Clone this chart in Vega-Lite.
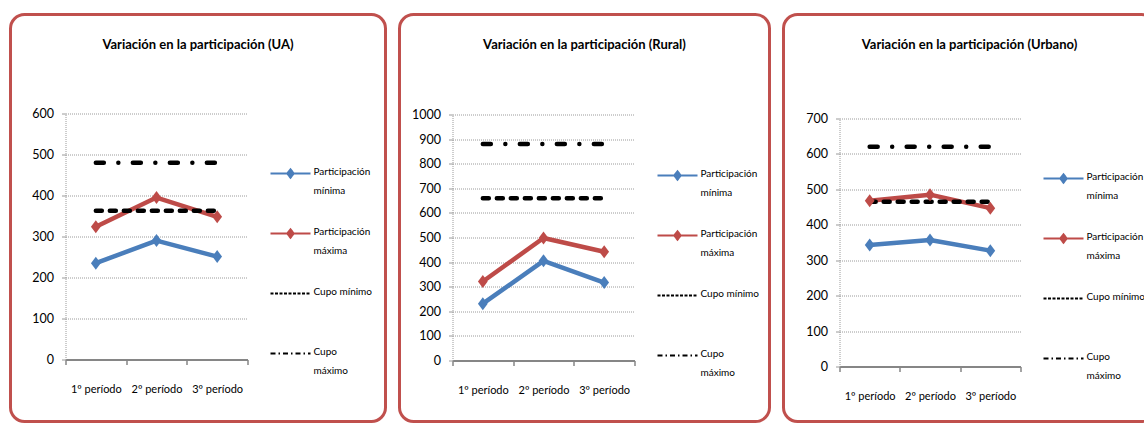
{
  "$schema": "https://vega.github.io/schema/vega-lite/v6.json",
  "background": "white",
  "padding": {"left": 8.5, "top": 12.5, "right": 0, "bottom": 0},
  "spacing": 10,
  "datasets": {
    "d": [
      {"panel": "UA", "periodo": "1º período", "serie": "Participación mínima", "valor": 235},
      {"panel": "UA", "periodo": "2º período", "serie": "Participación mínima", "valor": 290},
      {"panel": "UA", "periodo": "3º período", "serie": "Participación mínima", "valor": 251},
      {"panel": "UA", "periodo": "1º período", "serie": "Participación máxima", "valor": 324},
      {"panel": "UA", "periodo": "2º período", "serie": "Participación máxima", "valor": 395},
      {"panel": "UA", "periodo": "3º período", "serie": "Participación máxima", "valor": 348},
      {"panel": "UA", "periodo": "1º período", "serie": "Cupo mínimo", "valor": 363},
      {"panel": "UA", "periodo": "2º período", "serie": "Cupo mínimo", "valor": 363},
      {"panel": "UA", "periodo": "3º período", "serie": "Cupo mínimo", "valor": 363},
      {"panel": "UA", "periodo": "1º período", "serie": "Cupo máximo", "valor": 480},
      {"panel": "UA", "periodo": "2º período", "serie": "Cupo máximo", "valor": 480},
      {"panel": "UA", "periodo": "3º período", "serie": "Cupo máximo", "valor": 480},
      {"panel": "Rural", "periodo": "1º período", "serie": "Participación mínima", "valor": 231},
      {"panel": "Rural", "periodo": "2º período", "serie": "Participación mínima", "valor": 405},
      {"panel": "Rural", "periodo": "3º período", "serie": "Participación mínima", "valor": 317},
      {"panel": "Rural", "periodo": "1º período", "serie": "Participación máxima", "valor": 321},
      {"panel": "Rural", "periodo": "2º período", "serie": "Participación máxima", "valor": 498},
      {"panel": "Rural", "periodo": "3º período", "serie": "Participación máxima", "valor": 442},
      {"panel": "Rural", "periodo": "1º período", "serie": "Cupo mínimo", "valor": 660},
      {"panel": "Rural", "periodo": "2º período", "serie": "Cupo mínimo", "valor": 660},
      {"panel": "Rural", "periodo": "3º período", "serie": "Cupo mínimo", "valor": 660},
      {"panel": "Rural", "periodo": "1º período", "serie": "Cupo máximo", "valor": 880},
      {"panel": "Rural", "periodo": "2º período", "serie": "Cupo máximo", "valor": 880},
      {"panel": "Rural", "periodo": "3º período", "serie": "Cupo máximo", "valor": 880},
      {"panel": "Urbano", "periodo": "1º período", "serie": "Participación mínima", "valor": 343},
      {"panel": "Urbano", "periodo": "2º período", "serie": "Participación mínima", "valor": 357},
      {"panel": "Urbano", "periodo": "3º período", "serie": "Participación mínima", "valor": 327},
      {"panel": "Urbano", "periodo": "1º período", "serie": "Participación máxima", "valor": 468},
      {"panel": "Urbano", "periodo": "2º período", "serie": "Participación máxima", "valor": 485},
      {"panel": "Urbano", "periodo": "3º período", "serie": "Participación máxima", "valor": 447},
      {"panel": "Urbano", "periodo": "1º período", "serie": "Cupo mínimo", "valor": 465},
      {"panel": "Urbano", "periodo": "2º período", "serie": "Cupo mínimo", "valor": 465},
      {"panel": "Urbano", "periodo": "3º período", "serie": "Cupo mínimo", "valor": 465},
      {"panel": "Urbano", "periodo": "1º período", "serie": "Cupo máximo", "valor": 620},
      {"panel": "Urbano", "periodo": "2º período", "serie": "Cupo máximo", "valor": 620},
      {"panel": "Urbano", "periodo": "3º período", "serie": "Cupo máximo", "valor": 620}
    ]
  },
  "data": {"name": "d"},
  "config": {
    "font": "Lato",
    "view": {"stroke": "#c0504d", "strokeWidth": 3, "cornerRadius": 14, "fill": "white"},
    "title": {"font": "Lato", "fontSize": 13, "fontWeight": "bold", "color": "#000000", "offset": -37, "baseline": "middle", "anchor": "middle"},
    "axisX": {"domainColor": "#868686", "domainWidth": 2, "tickColor": "#868686", "tickWidth": 1.5, "tickSize": 5, "labelPadding": 19, "labelFontSize": 11, "labelAngle": 0, "grid": false, "tickBand": "extent", "labelColor": "#000000", "labelFont": "Lato"},
    "axisY": {"domainColor": "#9a9a9a", "domainDash": [1, 1], "domainWidth": 1, "gridColor": "#9a9a9a", "gridDash": [1, 1], "gridWidth": 1, "tickColor": "#9a9a9a", "tickSize": 4, "labelPadding": 8, "labelFontSize": 12.5, "grid": true, "labelColor": "#000000", "labelFont": "Lato", "format": "d"},
    "legend": {"labelFont": "Lato", "labelFontSize": 10, "labelColor": "#000000", "padding": 0, "offset": 0}
  },
  "resolve": {"scale": {"x": "independent", "y": "independent", "color": "independent", "fill": "independent"}, "legend": {"color": "independent"}},
  "hconcat": [
    {
      "width": 375, "height": 407,
      "title": {"text": "Variación en la participación (UA)"},
      "transform": [{"filter": "datum.panel == 'UA'"}],
      "encoding": {
        "x": {"field": "periodo", "type": "nominal", "sort": null, "title": null, "scale": {"type": "band", "range": [55, 237], "paddingInner": 0, "paddingOuter": 0}, "axis": {"offset": -62}},
        "y": {"field": "valor", "type": "quantitative", "title": null, "scale": {"domain": [0, 600], "range": [345, 99], "nice": false}, "axis": {"offset": -55, "values": [0, 100, 200, 300, 400, 500, 600]}}
      },
      "layer": [
        {
          "transform": [{"filter": "indexof(datum.serie, 'Participación') == 0"}],
          "mark": {"type": "line", "strokeWidth": 4.5, "strokeCap": "round", "strokeJoin": "round"},
          "encoding": {
            "color": {"field": "serie", "type": "nominal", "scale": {"domain": ["Participación mínima", "Participación máxima", "Cupo mínimo", "Cupo máximo"], "range": ["#4a7ebb", "#be4b48", "#000000", "#000000"]},
              "legend": {"orient": "none", "legendX": 259, "legendY": 138, "title": null, "symbolSize": 1600, "symbolStrokeWidth": 2, "rowPadding": 16, "labelOffset": 2, "labelBaseline": "top", "labelLimit": 200,
                "labelExpr": "datum.label == 'Cupo mínimo' ? ['Cupo mínimo', ''] : split(datum.label, ' ')",
                "encode": {
                  "symbols": {"update": {
                    "shape": {"signal": "indexof(datum.value, 'Participación') == 0 ? 'M-1,0H1M-0.16,0L0,-0.21L0.16,0L0,0.21Z' : 'M-1,0H1'"},
                    "fill": {"signal": "datum.value == 'Participación mínima' ? '#4a7ebb' : datum.value == 'Participación máxima' ? '#be4b48' : 'transparent'"},
                    "strokeDash": {"signal": "datum.value == 'Cupo mínimo' ? [3, 1.5] : datum.value == 'Cupo máximo' ? [5, 3, 1.5, 3] : [1, 0]"}
                  }},
                  "labels": {"update": {"dy": {"value": -6.5}, "lineHeight": {"value": 19}}}
                }}}
          }
        },
        {
          "transform": [{"filter": "datum.serie == 'Cupo mínimo'"}],
          "mark": {"type": "line", "strokeWidth": 4.5, "strokeCap": "round", "color": "#000000", "strokeDash": [6, 8]},
          "encoding": {}
        },
        {
          "transform": [{"filter": "datum.serie == 'Cupo máximo'"}],
          "mark": {"type": "line", "strokeWidth": 4.5, "strokeCap": "round", "color": "#000000", "strokeDash": [8, 14.5, 0.01, 14.5]},
          "encoding": {}
        },
        {
          "transform": [{"filter": "indexof(datum.serie, 'Participación') == 0"}],
          "mark": {"type": "point", "shape": "M-0.75,0L0,-1L0.75,0L0,1Z", "filled": true, "size": 169, "opacity": 1, "strokeWidth": 0},
          "encoding": {"fill": {"field": "serie", "type": "nominal", "scale": {"domain": ["Participación mínima", "Participación máxima"], "range": ["#4a7ebb", "#be4b48"]}, "legend": null}}
        }
      ]
    },
    {
      "width": 370, "height": 407,
      "title": {"text": "Variación en la participación (Rural)"},
      "transform": [{"filter": "datum.panel == 'Rural'"}],
      "encoding": {
        "x": {"field": "periodo", "type": "nominal", "sort": null, "title": null, "scale": {"type": "band", "range": [53, 235], "paddingInner": 0, "paddingOuter": 0}, "axis": {"offset": -61}},
        "y": {"field": "valor", "type": "quantitative", "title": null, "scale": {"domain": [0, 1000], "range": [346, 100], "nice": false}, "axis": {"offset": -53, "values": [0, 100, 200, 300, 400, 500, 600, 700, 800, 900, 1000]}}
      },
      "layer": [
        {
          "transform": [{"filter": "indexof(datum.serie, 'Participación') == 0"}],
          "mark": {"type": "line", "strokeWidth": 4.5, "strokeCap": "round", "strokeJoin": "round"},
          "encoding": {
            "color": {"field": "serie", "type": "nominal", "scale": {"domain": ["Participación mínima", "Participación máxima", "Cupo mínimo", "Cupo máximo"], "range": ["#4a7ebb", "#be4b48", "#000000", "#000000"]},
              "legend": {"orient": "none", "legendX": 257, "legendY": 140, "title": null, "symbolSize": 1600, "symbolStrokeWidth": 2, "rowPadding": 16, "labelOffset": 2, "labelBaseline": "top", "labelLimit": 200,
                "labelExpr": "datum.label == 'Cupo mínimo' ? ['Cupo mínimo', ''] : split(datum.label, ' ')",
                "encode": {
                  "symbols": {"update": {
                    "shape": {"signal": "indexof(datum.value, 'Participación') == 0 ? 'M-1,0H1M-0.16,0L0,-0.21L0.16,0L0,0.21Z' : 'M-1,0H1'"},
                    "fill": {"signal": "datum.value == 'Participación mínima' ? '#4a7ebb' : datum.value == 'Participación máxima' ? '#be4b48' : 'transparent'"},
                    "strokeDash": {"signal": "datum.value == 'Cupo mínimo' ? [3, 1.5] : datum.value == 'Cupo máximo' ? [5, 3, 1.5, 3] : [1, 0]"}
                  }},
                  "labels": {"update": {"dy": {"value": -6.5}, "lineHeight": {"value": 19}}}
                }}}
          }
        },
        {
          "transform": [{"filter": "datum.serie == 'Cupo mínimo'"}],
          "mark": {"type": "line", "strokeWidth": 4.5, "strokeCap": "round", "color": "#000000", "strokeDash": [6, 8]},
          "encoding": {}
        },
        {
          "transform": [{"filter": "datum.serie == 'Cupo máximo'"}],
          "mark": {"type": "line", "strokeWidth": 4.5, "strokeCap": "round", "color": "#000000", "strokeDash": [8, 14.5, 0.01, 14.5]},
          "encoding": {}
        },
        {
          "transform": [{"filter": "indexof(datum.serie, 'Participación') == 0"}],
          "mark": {"type": "point", "shape": "M-0.75,0L0,-1L0.75,0L0,1Z", "filled": true, "size": 169, "opacity": 1, "strokeWidth": 0},
          "encoding": {"fill": {"field": "serie", "type": "nominal", "scale": {"domain": ["Participación mínima", "Participación máxima"], "range": ["#4a7ebb", "#be4b48"]}, "legend": null}}
        }
      ]
    },
    {
      "width": 372, "height": 407,
      "title": {"text": "Variación en la participación (Urbano)"},
      "transform": [{"filter": "datum.panel == 'Urbano'"}],
      "encoding": {
        "x": {"field": "periodo", "type": "nominal", "sort": null, "title": null, "scale": {"type": "band", "range": [56, 237], "paddingInner": 0, "paddingOuter": 0}, "axis": {"offset": -55}},
        "y": {"field": "valor", "type": "quantitative", "title": null, "scale": {"domain": [0, 700], "range": [352, 104], "nice": false}, "axis": {"offset": -56, "values": [0, 100, 200, 300, 400, 500, 600, 700]}}
      },
      "layer": [
        {
          "transform": [{"filter": "indexof(datum.serie, 'Participación') == 0"}],
          "mark": {"type": "line", "strokeWidth": 4.5, "strokeCap": "round", "strokeJoin": "round"},
          "encoding": {
            "color": {"field": "serie", "type": "nominal", "scale": {"domain": ["Participación mínima", "Participación máxima", "Cupo mínimo", "Cupo máximo"], "range": ["#4a7ebb", "#be4b48", "#000000", "#000000"]},
              "legend": {"orient": "none", "legendX": 259, "legendY": 143, "title": null, "symbolSize": 1600, "symbolStrokeWidth": 2, "rowPadding": 16, "labelOffset": 2, "labelBaseline": "top", "labelLimit": 200,
                "labelExpr": "datum.label == 'Cupo mínimo' ? ['Cupo mínimo', ''] : split(datum.label, ' ')",
                "encode": {
                  "symbols": {"update": {
                    "shape": {"signal": "indexof(datum.value, 'Participación') == 0 ? 'M-1,0H1M-0.16,0L0,-0.21L0.16,0L0,0.21Z' : 'M-1,0H1'"},
                    "fill": {"signal": "datum.value == 'Participación mínima' ? '#4a7ebb' : datum.value == 'Participación máxima' ? '#be4b48' : 'transparent'"},
                    "strokeDash": {"signal": "datum.value == 'Cupo mínimo' ? [3, 1.5] : datum.value == 'Cupo máximo' ? [5, 3, 1.5, 3] : [1, 0]"}
                  }},
                  "labels": {"update": {"dy": {"value": -6.5}, "lineHeight": {"value": 19}}}
                }}}
          }
        },
        {
          "transform": [{"filter": "datum.serie == 'Cupo mínimo'"}],
          "mark": {"type": "line", "strokeWidth": 4.5, "strokeCap": "round", "color": "#000000", "strokeDash": [6, 8]},
          "encoding": {}
        },
        {
          "transform": [{"filter": "datum.serie == 'Cupo máximo'"}],
          "mark": {"type": "line", "strokeWidth": 4.5, "strokeCap": "round", "color": "#000000", "strokeDash": [8, 14.5, 0.01, 14.5]},
          "encoding": {}
        },
        {
          "transform": [{"filter": "indexof(datum.serie, 'Participación') == 0"}],
          "mark": {"type": "point", "shape": "M-0.75,0L0,-1L0.75,0L0,1Z", "filled": true, "size": 169, "opacity": 1, "strokeWidth": 0},
          "encoding": {"fill": {"field": "serie", "type": "nominal", "scale": {"domain": ["Participación mínima", "Participación máxima"], "range": ["#4a7ebb", "#be4b48"]}, "legend": null}}
        }
      ]
    }
  ]
}
